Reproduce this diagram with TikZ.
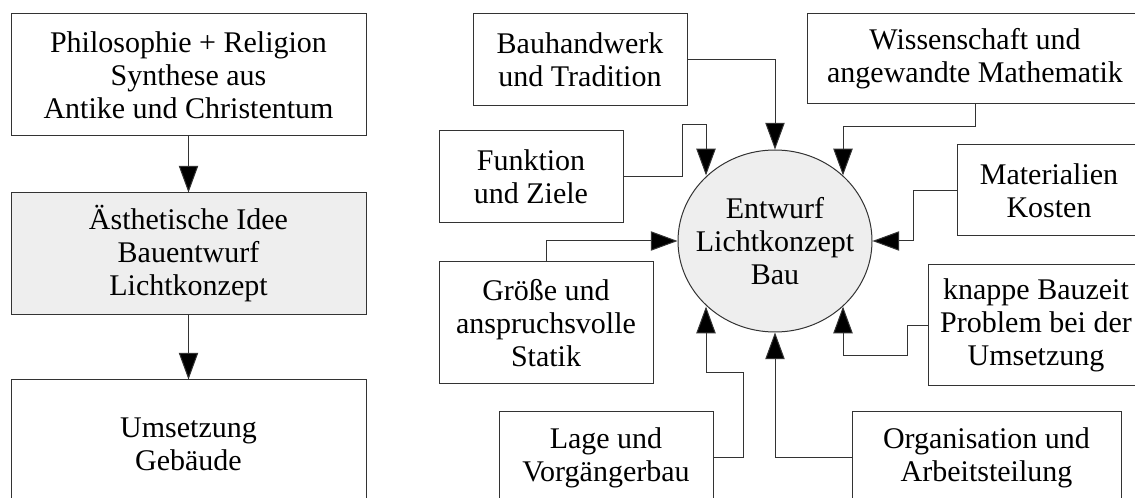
\documentclass[tikz,border=0pt]{standalone}
\usepackage{fontspec}
\setmainfont{Liberation Serif}
\usetikzlibrary{arrows.meta,shapes.geometric}
\definecolor{hellgrau}{HTML}{EEEEEE}
\definecolor{linie}{HTML}{333333}
\begin{document}
\begin{tikzpicture}[x=0.75pt,y=-0.75pt,
  kasten/.style={draw=linie, line width=0.75pt, rectangle, align=center, inner sep=0pt,
    font=\fontsize{22.5}{24.75}\selectfont},
  pfeil/.style={draw=linie, line width=0.75pt, -{Triangle[length=20pt,width=14.5pt,fill=black]}}]
  \useasboundingbox (0,0) rectangle (1135,498);
  \clip (0,0) rectangle (1135,498);

  % linke Spalte
  \node[kasten, minimum width=355*0.75pt, minimum height=122*0.75pt] (phil) at (188.5,75)
    {Philosophie + Religion\\Synthese aus\\Antike und Christentum};
  \node[kasten, fill=hellgrau, minimum width=355*0.75pt, minimum height=122*0.75pt] (idee) at (188.5,254)
    {Ästhetische Idee\\Bauentwurf\\Lichtkonzept};
  \node[kasten, minimum width=355*0.75pt, minimum height=128*0.75pt] (ums) at (188.5,444)
    {Umsetzung\\Gebäude};

  \draw[pfeil](phil) -- (idee);
  \draw[pfeil](idee) -- (ums);

  % rechte Seite
  \node[kasten, ellipse, fill=hellgrau, inner xsep=-12pt, inner ysep=-4pt,
    minimum width=194*0.75pt, minimum height=182*0.75pt] (kreis) at (775,241)
    {Entwurf\\Lichtkonzept\\Bau};

  \node[kasten, minimum width=214*0.75pt, minimum height=92*0.75pt] (hand) at (580,60)
    {Bauhandwerk\\und Tradition};
  \node[kasten, minimum width=336*0.75pt, minimum height=90*0.75pt] (wiss) at (975,59)
    {Wissenschaft und\\angewandte Mathematik};
  \node[kasten, minimum width=184*0.75pt, minimum height=92*0.75pt] (fkt) at (531,177)
    {Funktion\\und Ziele};
  \node[kasten, minimum width=184*0.75pt, minimum height=91*0.75pt] (mat) at (1049,190.5)
    {Materialien\\Kosten};
  \node[kasten, minimum width=214*0.75pt, minimum height=122*0.75pt] (groesse) at (546,323)
    {Größe und\\anspruchsvolle\\Statik};
  \node[kasten, minimum width=216*0.75pt, minimum height=121*0.75pt] (knapp) at (1036,325.5)
    {knappe Bauzeit\\Problem bei der\\Umsetzung};
  \node[kasten, minimum width=214*0.75pt, minimum height=92*0.75pt] (lage) at (606,458)
    {Lage und\\Vorgängerbau};
  \node[kasten, minimum width=269*0.75pt, minimum height=92*0.75pt] (org) at (986.5,458)
    {Organisation und\\Arbeitsteilung};

  \draw[pfeil](hand.east) -| (kreis.north);
  \draw[pfeil](wiss.south) |- (843,127) -- (843,127 |- kreis.44);
  \draw[pfeil](fkt.east) -| (682,125) -- (706,125) -- (706,125 |- kreis.136);
  \draw[pfeil](mat.west) -- ++(-43,0) |- (kreis.east);
  \draw[pfeil](groesse.north) |- (kreis.west);
  \draw[pfeil](knapp.west) -- ++(-20,0) |- (843,356) -- (843,356 |- kreis.-44);
  \draw[pfeil](lage.east) -| (743,373) -- (706,373) -- (706,373 |- kreis.224);
  \draw[pfeil](org.west) -| (kreis.south);

\end{tikzpicture}
\end{document}
